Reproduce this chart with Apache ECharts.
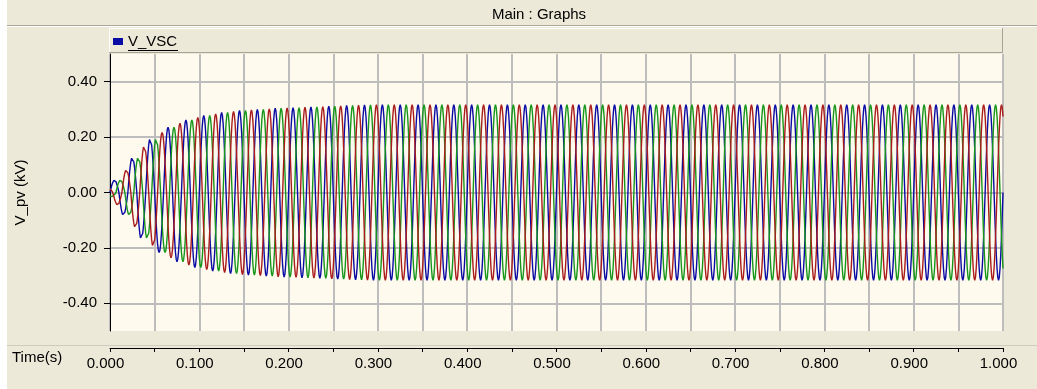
<!DOCTYPE html>
<html>
<head>
<meta charset="utf-8">
<title>Main : Graphs</title>
<script src="https://cdn.jsdelivr.net/npm/echarts@6/dist/echarts.min.js"></script>
<style>
  html, body { margin: 0; padding: 0; background: #fff; }
  #chart { width: 1037px; height: 389px; }
</style>
</head>
<body>
<div id="chart"></div>
<script>
// 50 Hz trace, 24 samples per cycle -> one half-wave is 12 samples (normalised shape)
const halfWave = [0, 0.259, 0.5, 0.707, 0.866, 0.966, 1, 0.966, 0.866, 0.707, 0.5, 0.259]
const SAMPLES_PER_SECOND = 1200
const END_TIME = 1.0

// peak of each 10 ms half-wave (kV)
const halfPeaks = [
  0.045, 0.082, 0.128, 0.170, 0.198, 0.217, 0.236, 0.250, 0.262, 0.271,
  0.278, 0.284, 0.289, 0.293, 0.296, 0.298, 0.300, 0.302, 0.304, 0.305,
  0.306, 0.308, 0.309, 0.310, 0.312, 0.313, 0.314, 0.315, 0.316, 0.317,
  0.317, 0.317, 0.317, 0.317, 0.317, 0.317, 0.317, 0.317, 0.317, 0.317,
  0.317, 0.317, 0.317, 0.317, 0.317, 0.317, 0.317, 0.317, 0.317, 0.317,
  0.317, 0.317, 0.317, 0.317, 0.317, 0.317, 0.317, 0.317, 0.317, 0.317,
  0.317, 0.317, 0.317, 0.317, 0.317, 0.317, 0.317, 0.317, 0.317, 0.317,
  0.317, 0.317, 0.317, 0.317, 0.317, 0.317, 0.317, 0.317, 0.317, 0.317,
  0.317, 0.317, 0.317, 0.317, 0.317, 0.317, 0.317, 0.317, 0.317, 0.317,
  0.317, 0.317, 0.317, 0.317, 0.317, 0.317, 0.317, 0.317, 0.317, 0.317,
]
// envelope just after t = 0
const leadPeak = 0.015

const phaseNames = ['V_VSC', 'V_VSC:b', 'V_VSC:c']
const phaseLags = [0, 8, 16] // samples, 120 deg apart
const PHASE_COLORS = ['#0A0AA4', '#16961A', '#AA1C1C']

const yTickValues = [-0.4, -0.2, 0, 0.2, 0.4]
const timeLabelValues = [0, 0.1, 0.2, 0.3, 0.4, 0.5, 0.6, 0.7, 0.8, 0.9, 1.0]

const FONT = 'Liberation Sans'
const BG = '#ECE9D8'
const GRID_LINE = '#BDBDBD'

// build [t, v] pairs of one phase from the half-wave shape and the peaks
const buildPhase = lag => {
  const points = []
  const total = Math.round(END_TIME * SAMPLES_PER_SECOND)
  for (let i = 0; i <= total; i++) {
    const m = i - lag
    const h = Math.floor(m / halfWave.length)
    const j = m - h * halfWave.length
    const k = Math.floor((lag + halfWave.length * h) / halfWave.length)
    const peak = k < 0 ? leadPeak : halfPeaks[Math.min(k, halfPeaks.length - 1)]
    const sign = h % 2 === 0 ? 1 : -1
    points.push([i / SAMPLES_PER_SECOND, sign * peak * halfWave[j]])
  }
  return points
}

const isTimeLabel = v => timeLabelValues.some(t => Math.abs(t - v) < 1e-6)

const series = phaseNames.map((name, idx) => ({
  name,
  type: 'line',
  xAxisIndex: 0,
  yAxisIndex: 0,
  data: buildPhase(phaseLags[idx]),
  showSymbol: false,
  symbol: 'none',
  lineStyle: { width: 1.4, color: PHASE_COLORS[idx] },
  itemStyle: { color: PHASE_COLORS[idx] },
  silent: true,
}))

const option = {
  backgroundColor: BG,
  animation: false,
  textStyle: { fontFamily: FONT },
  grid: [
    { left: 110, right: 34, top: 54, bottom: 58, show: true, backgroundColor: '#FEFAEE', borderWidth: 0 },
    { left: 110, right: 34, top: 347, height: 1 },
  ],
  legend: {
    data: ['V_VSC'],
    left: 113,
    top: 34,
    padding: 0,
    icon: 'rect',
    itemWidth: 10,
    itemHeight: 7,
    itemGap: 5,
    selectedMode: false,
    z: 10,
    textStyle: { fontFamily: FONT, fontSize: 15, color: '#000' },
  },
  xAxis: [
    {
      gridIndex: 0,
      type: 'value',
      min: 0,
      max: 1,
      interval: 0.05,
      axisLine: { show: false },
      axisTick: { show: false },
      axisLabel: { show: false },
      splitLine: { show: true, lineStyle: { color: GRID_LINE, width: 2 } },
    },
    {
      gridIndex: 1,
      type: 'value',
      position: 'bottom',
      min: 0,
      max: 1,
      interval: 0.05,
      axisLine: { show: true, onZero: false, lineStyle: { color: '#000', width: 1 } },
      axisTick: { show: true, length: 4, lineStyle: { color: '#000' } },
      axisLabel: {
        show: true,
        margin: 8,
        padding: [0, 9, 0, 0],
        showMinLabel: true,
        showMaxLabel: true,
        fontFamily: FONT,
        fontSize: 15,
        color: '#000',
        formatter: v => (isTimeLabel(v) ? v.toFixed(3) : ''),
      },
      splitLine: { show: false },
    },
  ],
  yAxis: [
    {
      gridIndex: 0,
      type: 'value',
      min: -0.5,
      max: 0.5,
      name: 'V_pv (kV)',
      nameLocation: 'middle',
      nameRotate: 90,
      nameGap: 82,
      nameTextStyle: { fontFamily: FONT, fontSize: 15, color: '#000' },
      axisLine: { show: true, onZero: false, lineStyle: { color: '#000', width: 1 } },
      axisTick: { show: true, length: 6, customValues: yTickValues, lineStyle: { color: '#000' } },
      axisLabel: {
        customValues: yTickValues,
        margin: 13,
        fontFamily: FONT,
        fontSize: 15,
        color: '#000',
        formatter: v => v.toFixed(2),
      },
      splitLine: { show: true, customValues: yTickValues, lineStyle: { color: GRID_LINE, width: 2 } },
    },
    { gridIndex: 1, type: 'value', min: 0, max: 1, show: false },
  ],
  graphic: [
    // window edge
    { type: 'rect', shape: { x: 0, y: 0, width: 7, height: 389 }, style: { fill: '#FFFFFF' }, silent: true },
    // title bar
    { type: 'line', shape: { x1: 7, y1: 25.5, x2: 1037, y2: 25.5 }, style: { stroke: '#ACA899', lineWidth: 1 }, silent: true },
    { type: 'line', shape: { x1: 7, y1: 26.5, x2: 1037, y2: 26.5 }, style: { stroke: '#FFFFFF', lineWidth: 1 }, silent: true },
    {
      type: 'text',
      x: 539,
      y: 15,
      style: { text: 'Main : Graphs', fontFamily: FONT, fontSize: 15, fill: '#000', align: 'center', verticalAlign: 'middle' },
      silent: true,
    },
    // legend bar
    { type: 'rect', shape: { x: 109, y: 28, width: 894, height: 25 }, style: { fill: BG }, silent: true },
    { type: 'line', shape: { x1: 109, y1: 28.5, x2: 1002, y2: 28.5 }, style: { stroke: '#FFFFFF', lineWidth: 1 }, silent: true },
    { type: 'line', shape: { x1: 109.5, y1: 28, x2: 109.5, y2: 53 }, style: { stroke: '#FFFFFF', lineWidth: 1 }, silent: true },
    { type: 'line', shape: { x1: 109, y1: 52.5, x2: 1003, y2: 52.5 }, style: { stroke: '#A7A496', lineWidth: 1 }, silent: true },
    { type: 'line', shape: { x1: 1002.5, y1: 28, x2: 1002.5, y2: 53 }, style: { stroke: '#A7A496', lineWidth: 1 }, silent: true },
    // legend label underline
    { type: 'line', shape: { x1: 128, y1: 50.5, x2: 178, y2: 50.5 }, style: { stroke: '#000', lineWidth: 1 }, z: 11, silent: true },
    // separator above the time axis
    { type: 'line', shape: { x1: 7, y1: 345.5, x2: 1037, y2: 345.5 }, style: { stroke: '#CFCCBD', lineWidth: 1 }, silent: true },
    {
      type: 'text',
      x: 12,
      y: 358,
      style: { text: 'Time(s)', fontFamily: FONT, fontSize: 15, fill: '#000', align: 'left', verticalAlign: 'middle' },
      silent: true,
    },
  ],
  series,
}

const chart = echarts.init(document.getElementById('chart'), null, { renderer: 'canvas' })
chart.setOption(option)
</script>
</body>
</html>
